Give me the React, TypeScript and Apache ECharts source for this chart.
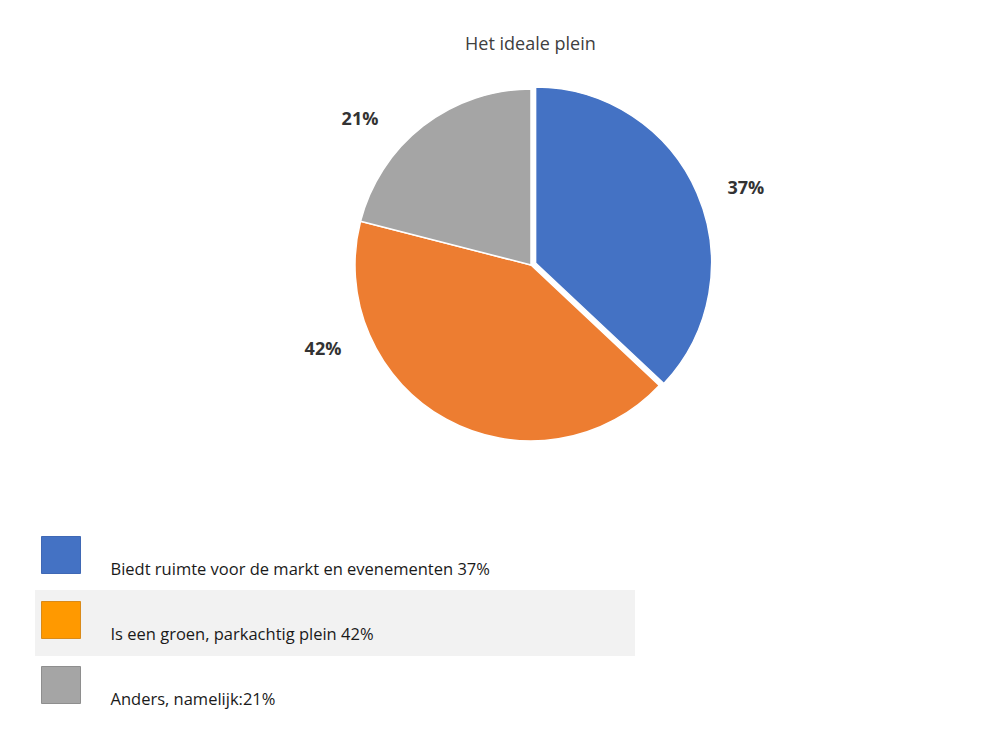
import React, { useEffect, useRef } from 'react';
import * as echarts from 'echarts';

const categories = [
  'Biedt ruimte voor de markt en evenementen',
  'Is een groen, parkachtig plein',
  'Anders, namelijk:',
];
const values = [37, 42, 21];
const sliceColors = ['#4472C4', '#ED7D31', '#A5A5A5'];
const legendColors = ['#4472C4', '#FF9900', '#A5A5A5'];
const legendBorders = ['#3F68B5', '#D98A1A', '#8E8E8E'];

// pie geometry
const pieCenter = [531, 265];
const pieRadius = 176;
// where each percentage label sits, relative to the pie centre (Excel "best fit")
const labelOffsets = [
  [219, -80],
  [-208, 83],
  [-171, -147],
];

const App: React.FC = () => {
  const chartRef = useRef<HTMLDivElement>(null);

  useEffect(() => {
    if (!chartRef.current) return;
    const chart = echarts.init(chartRef.current, undefined, { renderer: 'svg' });

    const option = {
      animation: false,
      backgroundColor: '#ffffff',
      title: {
        text: 'Het ideale plein',
        left: 460,
        top: 29,
        textStyle: {
          fontFamily: 'Open Sans',
          fontSize: 18,
          fontWeight: 'normal',
          color: '#404040',
        },
      },
      graphic: [
        {
          type: 'rect',
          z: -1,
          shape: { x: 35, y: 590, width: 600, height: 66 },
          style: { fill: '#F2F2F2' },
        },
      ],
      legend: {
        orient: 'vertical',
        left: 41,
        top: 528,
        padding: 0,
        itemWidth: 39,
        itemHeight: 37,
        itemGap: 11,
        icon: 'rect',
        selectedMode: false,
        data: categories.map((name, i) => ({
          name,
          itemStyle: { color: legendColors[i], borderColor: legendBorders[i], borderWidth: 1 },
        })),
        // leading empty line pushes the text below the middle of the square
        formatter: (name: string) => {
          const i = categories.indexOf(name);
          return `\n${name}${name.endsWith(':') ? '' : ' '}${values[i]}%`;
        },
        textStyle: {
          fontFamily: 'Open Sans',
          fontSize: 16.5,
          lineHeight: 27,
          color: '#1a1a1a',
          padding: [0, 0, 0, 25],
        },
      },
      series: [
        {
          type: 'pie',
          center: pieCenter,
          radius: pieRadius,
          startAngle: 90,
          clockwise: true,
          selectedMode: 'single',
          selectedOffset: 5,
          itemStyle: { borderColor: '#ffffff', borderWidth: 1.5 },
          label: {
            show: true,
            position: 'outside',
            formatter: '{c}%',
            fontFamily: 'Open Sans',
            fontSize: 18,
            fontWeight: 'bold',
            color: '#333333',
          },
          labelLine: { show: false },
          labelLayout: (params: any) => {
            const off = labelOffsets[params.dataIndex];
            return {
              x: pieCenter[0] + off[0],
              y: pieCenter[1] + off[1],
              align: 'center',
              verticalAlign: 'middle',
            };
          },
          emphasis: { disabled: true },
          data: categories.map((name, i) => ({
            name,
            value: values[i],
            selected: i === 0,
            itemStyle: { color: sliceColors[i] },
          })),
        },
      ],
    };

    chart.setOption(option);
    return () => {
      chart.dispose();
    };
  }, []);

  return (
    <div
      ref={chartRef}
      style={{ position: 'absolute', left: 0, top: 0, width: 989, height: 750 }}
    />
  );
};

export default App;
